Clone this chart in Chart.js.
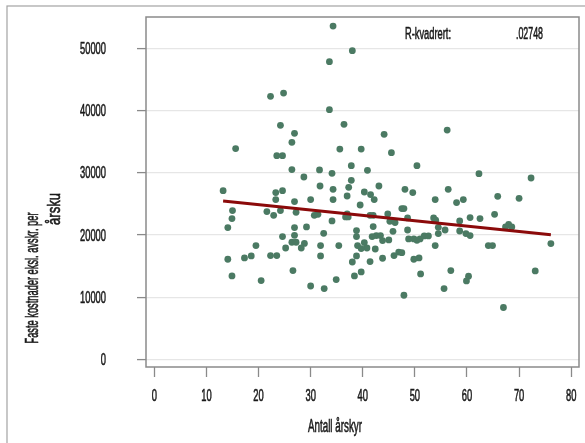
<!DOCTYPE html>
<html>
<head>
<meta charset="utf-8">
<script src="https://cdn.jsdelivr.net/npm/chart.js@4.4.1/dist/chart.umd.min.js"></script>
<style>
  body { margin: 0; background: #fff; }
  canvas { display: block; }
</style>
</head>
<body>
<canvas id="scatterChart" width="585" height="443"></canvas>
<script>
// Antall årskyr per bruk
const arskyr = [
    34.3, 38.0, 33.6, 24.8, 22.3, 33.6, 24.2, 36.4, 56.2, 26.9,
    44.1, 26.4, 15.6, 35.6, 39.7, 45.5, 23.5, 24.6, 37.8, 50.4,
    26.4, 31.7, 40.9, 34.1, 62.3, 28.7, 72.3, 37.8, 31.8, 43.1,
    37.3, 34.3, 48.1, 56.4, 13.2, 24.6, 23.3, 40.3, 49.6, 41.5,
    37.0, 65.9, 70.0, 23.3, 30.0, 34.3, 42.2, 53.9, 59.3, 26.9,
    58.0, 39.5, 47.5, 47.9, 15.0, 24.2, 21.6, 27.2, 37.0, 44.8,
    31.4, 65.3, 30.7, 22.9, 41.4, 42.0, 36.7, 37.2, 60.6, 48.6,
    53.6, 14.9, 62.5, 54.0, 34.1, 58.6, 45.2, 46.2, 68.0, 29.2,
    42.0, 67.4, 68.6, 14.1, 26.9, 54.5, 55.8, 48.6, 38.8, 58.6,
    45.8, 32.5, 54.5, 59.8, 26.9, 42.6, 43.4, 60.6, 51.8, 52.6,
    24.6, 38.8, 41.8, 48.8, 49.8, 51.0, 50.4, 45.0, 43.8, 26.4,
    27.2, 40.3, 28.8, 76.1, 19.5, 31.9, 35.4, 39.0, 53.9, 64.1,
    64.9, 25.2, 28.2, 40.8, 39.7, 42.4, 46.9, 47.5, 46.0, 22.3,
    23.5, 18.6, 31.9, 38.8, 17.3, 50.8, 43.8, 14.1, 49.8, 41.4,
    38.0, 26.6, 56.9, 73.1, 39.7, 51.1, 14.9, 38.4, 60.3, 34.9,
    20.5, 59.9, 30.0, 32.6, 55.6, 47.9, 67.0
];

// Faste kostnader eksl. avskrivninger per årsku (kr)
const kostnad = [
    53540, 49590, 47830, 42790, 42260, 40120, 37600, 37770, 36850, 36320,
    36160, 34880, 33870, 33800, 33800, 33220, 32740, 32740, 31130, 31130,
    30500, 30450, 30380, 29900, 29850, 29310, 29150, 28780, 27860, 27860,
    27650, 27330, 27330, 27330, 27120, 27120, 26800, 26900, 26800, 26480,
    26260, 26210, 25890, 25680, 25680, 25680, 25680, 25680, 25680, 25360,
    25200, 24810, 24240, 24240, 23910, 23910, 23750, 23640, 23370, 23370,
    23320, 23320, 23160, 23160, 23160, 23160, 22890, 22890, 22790, 22730,
    22730, 22630, 22630, 22360, 22250, 22250, 22200, 21990, 21700, 21300,
    21350, 21300, 21300, 21190, 21190, 21230, 20800, 20800, 20700, 20640,
    20590, 20270, 20220, 20220, 19950, 19900, 19900, 19900, 19840, 19840,
    19740, 19740, 19740, 19360, 19360, 19360, 19150, 19200, 19100, 18830,
    18830, 18780, 18650, 18620, 18300, 18300, 18300, 18300, 18300, 18300,
    18300, 17910, 17910, 17910, 17820, 17750, 17250, 17150, 16690, 16690,
    16690, 16630, 16630, 16630, 16310, 16310, 16260, 16100, 16100, 15730,
    15660, 14280, 14280, 14220, 14060, 13740, 13420, 13420, 13370, 12840,
    12680, 12620, 11810, 11390, 11390, 10320, 8350
];

// Tilpasset regresjonslinje (endepunkter)
const fitX = [13.2, 76.1];
const fitY = [25450, 20020];
const rSquared = '.02748';

const xTicks = [0, 10, 20, 30, 40, 50, 60, 70, 80];
const yTicks = [0, 10000, 20000, 30000, 40000, 50000];

const xTitle = 'Antall årskyr';
const yTitle = ['Faste kostnader eksl. avskr. per', 'årsku'];

const FONT = '"Liberation Sans Narrow", "Liberation Sans", Arial, sans-serif';

// smal tekst: skaleres horisontalt til ønsket bredde, litt fetere strek
function narrowText(ctx, text, x, y, width, align, rotated) {
    ctx.save();
    ctx.translate(x, y);
    if (rotated) ctx.rotate(-Math.PI / 2);
    const k = width / ctx.measureText(text).width;
    ctx.scale(k, 1);
    ctx.textAlign = align;
    ctx.textBaseline = 'middle';
    ctx.fillText(text, 0, 0);
    ctx.lineWidth = 0.6;
    ctx.strokeText(text, 0, 0);
    ctx.restore();
}

const framePlugin = {
    id: 'frame',
    beforeDraw(chart) {
        const ctx = chart.ctx;
        ctx.save();
        ctx.strokeStyle = '#a3a3a3';
        ctx.lineWidth = 1.2;
        ctx.strokeRect(7, 6, 620, 470);
        ctx.restore();
    },
    afterDraw(chart) {
        const ctx = chart.ctx;
        const a = chart.chartArea;
        const xs = chart.scales.x;
        const ys = chart.scales.y;

        ctx.save();
        ctx.strokeStyle = '#8a8a8a';
        ctx.lineWidth = 1.5;
        ctx.strokeRect(a.left, a.top, a.right - a.left, a.bottom - a.top);

        ctx.fillStyle = '#1a1a1a';
        ctx.strokeStyle = '#1a1a1a';
        ctx.font = '17px ' + FONT;
        const digit = 26 / ctx.measureText('50000').width;
        yTicks.forEach(v => {
            const t = String(v);
            narrowText(ctx, t, 106, ys.getPixelForValue(v) + 1, ctx.measureText(t).width * digit, 'right');
        });
        xTicks.forEach(v => {
            const t = String(v);
            narrowText(ctx, t, xs.getPixelForValue(v), 396, ctx.measureText(t).width * digit, 'center');
        });

        ctx.font = '18px ' + FONT;
        narrowText(ctx, xTitle, 335, 427, 54, 'center');
        narrowText(ctx, yTitle[0], 33, 278, 131, 'center', true);
        narrowText(ctx, yTitle[1], 55, 209, 32, 'center', true);

        ctx.font = '17px ' + FONT;
        narrowText(ctx, 'R-kvadrert:', 405, 34, 46, 'left');
        narrowText(ctx, rSquared, 516, 34, 27, 'left');
        ctx.restore();
    }
};

const points = arskyr.map((x, i) => ({ x: x, y: kostnad[i] }));
const fitLine = fitX.map((x, i) => ({ x: x, y: fitY[i] }));

new Chart(document.getElementById('scatterChart'), {
    type: 'scatter',
    data: {
        datasets: [{
            type: 'line',
            data: fitLine,
            borderColor: '#8b0a0a',
            borderWidth: 3,
            pointRadius: 0,
            fill: false
        }, {
            data: points,
            backgroundColor: '#4b7a63',
            pointRadius: 3.4,
            pointBorderWidth: 0
        }]
    },
    options: {
        responsive: false,
        animation: false,
        layout: { padding: { top: 17, right: 6, left: 0, bottom: 0 } },
        plugins: {
            legend: { display: false },
            tooltip: { enabled: false }
        },
        scales: {
            x: {
                type: 'linear',
                min: -1.6,
                max: 81.5,
                afterBuildTicks: s => { s.ticks = xTicks.map(v => ({ value: v })); },
                afterFit: s => { s.height = 76; },
                border: { display: false },
                grid: {
                    drawOnChartArea: false,
                    drawTicks: true,
                    tickLength: 10,
                    tickColor: '#8a8a8a',
                    tickWidth: 1.3
                },
                ticks: { display: false }
            },
            y: {
                min: -1200,
                max: 55000,
                afterBuildTicks: s => { s.ticks = yTicks.map(v => ({ value: v })); },
                afterFit: s => { s.width = 146; },
                border: { display: false },
                grid: {
                    color: '#e6e6e6',
                    lineWidth: 1.2,
                    drawTicks: true,
                    tickLength: 9,
                    tickColor: '#8a8a8a',
                    tickWidth: 1.3
                },
                ticks: { display: false }
            }
        }
    },
    plugins: [framePlugin]
});
</script>
</body>
</html>
